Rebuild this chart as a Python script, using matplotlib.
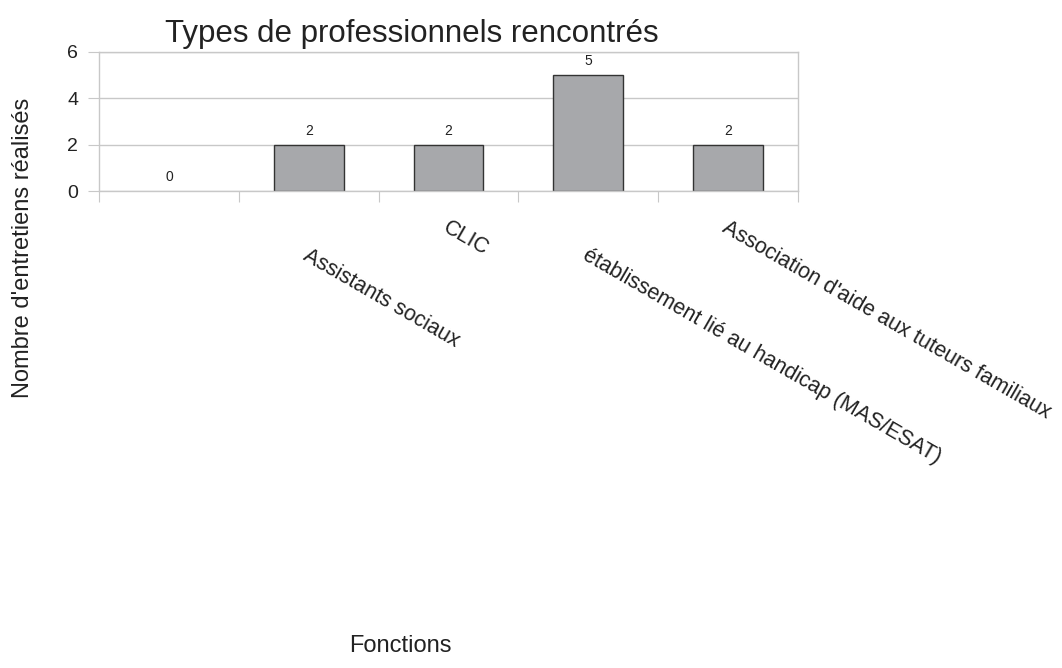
import numpy as np
import matplotlib.pyplot as plt

plt.rcParams['font.family'] = ['Liberation Sans', 'DejaVu Sans']

# nombre d'entretiens par type de professionnel
categories = ["", "Assistants sociaux", "CLIC",
              "établissement lié au handicap (MAS/ESAT)",
              "Association d'aide aux tuteurs familiaux"]
entretiens = [0, 2, 2, 5, 2]

fig = plt.figure(figsize=(10.62, 6.68), dpi=100)
ax = fig.add_axes([99/1062, 1 - 191/668, (798 - 99)/1062, (191 - 52)/668])

x = np.arange(len(categories))
edges = ['#333333' if v > 0 else 'none' for v in entretiens]
ax.bar(x, entretiens, width=0.5, color='#a7a8ab', edgecolor=edges,
       linewidth=1.0, zorder=2)

# valeurs au-dessus des barres
for xi, v in zip(x, entretiens):
    ax.annotate(str(v), (xi, v), xytext=(0, 10), textcoords='offset points',
                ha='center', va='center', fontsize=10, color='#222222')

ax.set_xlim(-0.5, len(categories) - 0.5)
ax.set_ylim(0, 6)
ax.set_yticks([0, 2, 4, 6])
ax.yaxis.grid(True, color='#c8c8c8', linewidth=1.0, zorder=0.5)
ax.tick_params(axis='y', labelsize=14, length=8, color='#c8c8c8',
               labelcolor='#222222', pad=7)

# séparateurs de catégories sous l'axe
ax.set_xticks(np.arange(len(categories) + 1) - 0.5)
ax.set_xticklabels([])
ax.tick_params(axis='x', length=8, color='#c8c8c8')

for side in ['left', 'right', 'top', 'bottom']:
    ax.spines[side].set_color('#c8c8c8')
    ax.spines[side].set_linewidth(1.0)

# libellés inclinés, décalés un sur deux
for i, lab in enumerate(categories):
    dy = -19 if i % 2 == 0 else -39
    ax.annotate(lab, (x[i], 0), xycoords=('data', 'axes fraction'),
                xytext=(1, dy), textcoords='offset points',
                rotation=-30, rotation_mode='anchor', ha='left', va='top',
                fontsize=15.5, color='#222222')

fig.text(412/1062, 1 - 42/668, "Types de professionnels rencontrés",
         ha='center', va='baseline', fontsize=22.5, color='#222222')
fig.text(23/1062, 1 - 248/668, "Nombre d'entretiens réalisés",
         rotation=90, ha='center', va='center', fontsize=17, color='#222222')
fig.text(400/1062, 1 - 652/668, "Fonctions",
         ha='center', va='baseline', fontsize=17, color='#222222')

fig.savefig('out.png', dpi=100)
